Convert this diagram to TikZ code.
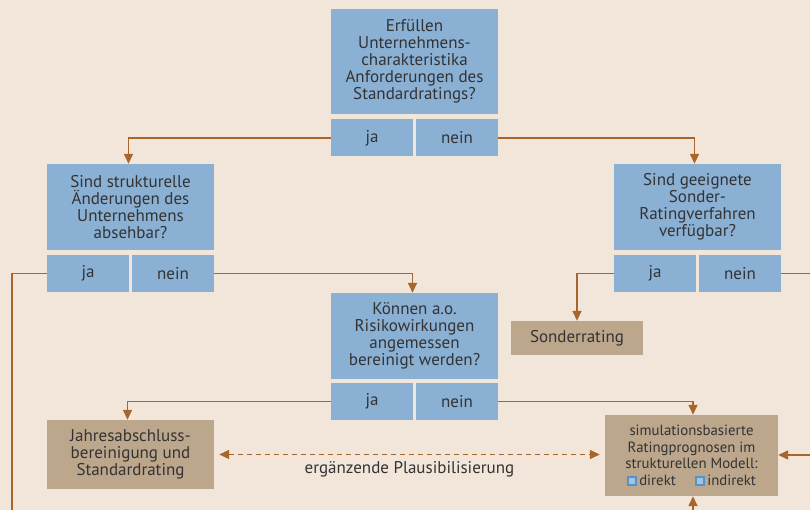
\documentclass[tikz,border=0pt]{standalone}
\usepackage{fontspec}
\setmainfont{PT Sans}
\usetikzlibrary{arrows.meta,calc}
\definecolor{bgc}{HTML}{F2E6DA}
\definecolor{qblue}{HTML}{8AB0D4}
\definecolor{rbrown}{HTML}{BCA68C}
\definecolor{lnc}{HTML}{A8662A}
\definecolor{txt}{HTML}{333333}
\definecolor{mkb}{HTML}{4F95CC}
\definecolor{mkf}{HTML}{A3C3E0}
\newcommand{\mk}{\tikz[baseline=-0.5pt]\draw[draw=mkb,fill=mkf,line width=1.8pt] (0,0) rectangle (8pt,8pt);}
\begin{document}
\begin{tikzpicture}[x=1pt,y=-1pt,
  every node/.style={font=\fontsize{17}{17}\selectfont,text=txt,align=center,inner sep=0pt},
  qbox/.style={fill=qblue,minimum width=167pt},
  abox/.style={fill=qblue,minimum width=82pt,minimum height=37pt},
  rbox/.style={fill=rbrown},
  conn/.style={draw=lnc,line width=1.5pt},
  arr/.style={conn,-{Triangle[length=10pt,width=9pt]}}]
\fill[bgc] (0,0) rectangle (810,510);
\useasboundingbox (0,0) rectangle (810,510);
% question 1
\node[qbox,minimum height=105pt] (q1) at (414.5,61.5) {Erfüllen\\Unternehmens-\\charakteristika\\Anforderungen des\\Standardratings?};
\node[abox] (q1ja) at (372,138) {ja};
\node[abox] (q1nein) at (457,138) {nein};
% question 2
\node[qbox,minimum height=86pt] (q2) at (130.5,207) {Sind strukturelle\\Änderungen des\\Unternehmens\\absehbar?};
\node[abox] (q2ja) at (88,273.5) {ja};
\node[abox] (q2nein) at (173,273.5) {nein};
% question 3
\node[qbox,minimum height=86pt] (q3) at (697.5,207) {Sind geeignete\\Sonder-\\Ratingverfahren\\verfügbar?};
\node[abox] (q3ja) at (655,273.5) {ja};
\node[abox] (q3nein) at (740,273.5) {nein};
% question 4
\node[qbox,minimum height=86pt] (q4) at (414.5,336) {Können a.o.\\Risikowirkungen\\angemessen\\bereinigt werden?};
\node[abox] (q4ja) at (372,401.5) {ja};
\node[abox] (q4nein) at (457,401.5) {nein};
% results
\node[rbox,minimum width=132pt,minimum height=34pt] (son) at (577,338) {Sonderrating};
\node[rbox,minimum width=167pt,minimum height=69pt] (jah) at (130.5,454.5) {Jahresabschluss-\\bereinigung und\\Standardrating};
\node[rbox,minimum width=173pt,minimum height=81pt,font=\fontsize{14.8}{16.5}\selectfont] (sim) at (691.5,455.5) {simulationsbasierte\\Ratingprognosen im\\strukturellen Modell:\\\mk\,direkt\hspace{1.3em}\mk\,indirekt};
% free ends
\coordinate (le) at (12,512);
\coordinate (re) at (812,273.5);
\coordinate (rin) at (812,455);
\coordinate (bin) at (693,512);
% connectors
\draw[arr] (q1ja.west) -| ([xshift=-2pt]q2.north);
\draw[arr] (q1nein.east) -| ([xshift=-3pt]q3.north);
\draw[conn] (q2ja.west) -| (le);
\draw[arr] (q2nein.east) -| ([xshift=-2pt]q4.north);
\draw[arr] (q3ja.west) -| (son.north);
\draw[conn] (q3nein.east) -- (re);
\draw[arr] (q4ja.west) -| ([xshift=-3pt]jah.north);
\draw[arr] (q4nein.east) -| ([xshift=1.5pt]sim.north);
\draw[conn,dashed,dash pattern=on 5pt off 4pt,{Triangle[length=10pt,width=9pt]}-{Triangle[length=10pt,width=9pt]}] ([xshift=5pt]jah.east) -- ([xshift=-5pt]sim.west |- jah.east) node[midway,below=6pt] (pl) {ergänzende Plausibilisierung};
\draw[arr] (rin) -- (sim.east |- rin);
\draw[arr] (bin) -- (sim.south -| bin);
\end{tikzpicture}
\end{document}
